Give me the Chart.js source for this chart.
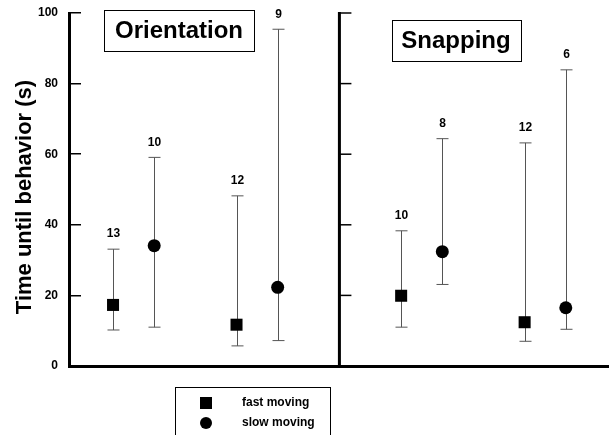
<!DOCTYPE html>
<html lang="en">
<head>
  <meta charset="UTF-8" />
  <title>Time until behavior</title>
  <script src="https://cdn.jsdelivr.net/npm/chart.js"></script>
  <style>
    html, body { margin: 0; padding: 0; background: #fff; }
  </style>
</head>
<body>
  <canvas id="behaviorChart" width="609" height="435"></canvas>

  <script>
    // panels and group positions along the x axis
    const panelTitles = ['Orientation', 'Snapping'];
    const dividerX = 6.5;
    const yTicks = [0, 20, 40, 60, 80, 100];

    // fast moving (squares)
    const fastX    = [1, 4, 8, 11];
    const fastMean = [17.3, 11.7, 19.9, 12.4];
    const fastLow  = [10.2, 5.7, 11.0, 7.0];
    const fastHigh = [33.1, 48.2, 38.3, 63.2];
    const fastN    = [13, 12, 10, 12];

    // slow moving (circles)
    const slowX    = [2, 5, 9, 12];
    const slowMean = [34.1, 22.3, 32.4, 16.5];
    const slowLow  = [11.0, 7.2, 23.1, 10.4];
    const slowHigh = [59.1, 95.4, 64.4, 83.9];
    const slowN    = [10, 9, 8, 6];

    function points(xs, mean, lo, hi, n) {
      return xs.map((x, i) => ({ x: x, y: mean[i], lo: lo[i], hi: hi[i], n: n[i] }));
    }

    const boldFont = (size) => 'bold ' + size + 'px "Liberation Sans", Arial, sans-serif';

    const extras = {
      id: 'extras',
      beforeDatasetsDraw(chart) {
        const ctx = chart.ctx;
        const xs = chart.scales.x, ys = chart.scales.y;
        ctx.save();

        // second panel axis
        const dx = xs.getPixelForValue(dividerX);
        ctx.strokeStyle = '#000';
        ctx.lineWidth = 3;
        ctx.beginPath();
        ctx.moveTo(dx, ys.getPixelForValue(100) - 1);
        ctx.lineTo(dx, ys.bottom);
        ctx.stroke();
        ctx.lineWidth = 1.5;
        yTicks.filter(v => v > 0).forEach(v => {
          const py = ys.getPixelForValue(v);
          ctx.beginPath();
          ctx.moveTo(dx, py);
          ctx.lineTo(dx + 12, py);
          ctx.stroke();
        });

        // range bars and sample sizes
        ctx.strokeStyle = '#555';
        ctx.lineWidth = 1;
        ctx.fillStyle = '#000';
        ctx.font = boldFont(12);
        ctx.textAlign = 'center';
        ctx.textBaseline = 'middle';
        chart.data.datasets.forEach(ds => {
          ds.data.forEach(p => {
            const px = Math.round(xs.getPixelForValue(p.x)) + 0.5;
            const top = ys.getPixelForValue(p.hi);
            const bot = ys.getPixelForValue(p.lo);
            ctx.beginPath();
            ctx.moveTo(px, top);
            ctx.lineTo(px, bot);
            ctx.moveTo(px - 6, top);
            ctx.lineTo(px + 6, top);
            ctx.moveTo(px - 6, bot);
            ctx.lineTo(px + 6, bot);
            ctx.stroke();
            ctx.fillText(String(p.n), px, top - 15);
          });
        });
        ctx.restore();
      },
      afterDraw(chart) {
        const ctx = chart.ctx;
        ctx.save();

        // y axis title
        ctx.fillStyle = '#000';
        ctx.font = boldFont(22);
        ctx.textAlign = 'center';
        ctx.textBaseline = 'middle';
        ctx.translate(25, 197);
        ctx.rotate(-Math.PI / 2);
        ctx.fillText('Time until behavior (s)', 0, 0);
        ctx.setTransform(1, 0, 0, 1, 0, 0);

        // panel title boxes
        const boxes = [
          { cx: 179, cy: 30, w: 150, h: 41 },
          { cx: 456, cy: 40, w: 129, h: 41 }
        ];
        ctx.font = boldFont(24);
        ctx.lineWidth = 1;
        ctx.strokeStyle = '#000';
        boxes.forEach((b, i) => {
          ctx.fillStyle = '#fff';
          ctx.fillRect(b.cx - b.w / 2, b.cy - b.h / 2, b.w, b.h);
          ctx.strokeRect(Math.round(b.cx - b.w / 2) + 0.5, Math.round(b.cy - b.h / 2) + 0.5, b.w, b.h);
          ctx.fillStyle = '#000';
          ctx.fillText(panelTitles[i], b.cx, b.cy + 1);
        });

        // legend box
        const lx = 175, ly = 387;
        ctx.strokeRect(lx + 0.5, ly + 0.5, 155, 60);
        ctx.font = boldFont(12);
        ctx.textAlign = 'left';
        chart.data.datasets.forEach((ds, i) => {
          const cy = ly + 16 + i * 20;
          ctx.fillStyle = '#000';
          if (ds.pointStyle === 'rect') {
            ctx.fillRect(lx + 25, cy - 6, 12, 12);
          } else {
            ctx.beginPath();
            ctx.arc(lx + 31, cy, 6, 0, Math.PI * 2);
            ctx.fill();
          }
          ctx.fillText(ds.label, lx + 67, cy);
        });
        ctx.restore();
      }
    };

    new Chart(document.getElementById('behaviorChart'), {
      type: 'scatter',
      data: {
        datasets: [
          {
            label: 'fast moving',
            data: points(fastX, fastMean, fastLow, fastHigh, fastN),
            pointStyle: 'rect',
            pointRadius: 8.5,
            backgroundColor: '#000',
            borderColor: '#000',
            borderWidth: 0
          },
          {
            label: 'slow moving',
            data: points(slowX, slowMean, slowLow, slowHigh, slowN),
            pointStyle: 'circle',
            pointRadius: 6.5,
            backgroundColor: '#000',
            borderColor: '#000',
            borderWidth: 0
          }
        ]
      },
      options: {
        responsive: false,
        animation: false,
        layout: { autoPadding: false, padding: { left: 0, right: 0, top: 13, bottom: 69 } },
        plugins: {
          legend: { display: false },
          tooltip: { enabled: false }
        },
        scales: {
          x: {
            type: 'linear',
            min: -0.07,
            max: 13.05,
            grid: { display: false },
            ticks: { display: false },
            border: { display: true, color: '#000', width: 3 },
            afterFit: (s) => { s.height = 0; }
          },
          y: {
            min: 0,
            max: 100,
            afterBuildTicks: (s) => { s.ticks = yTicks.map(v => ({ value: v })); },
            grid: { drawOnChartArea: false, tickLength: -12, lineWidth: 1.5, color: '#000' },
            border: { display: true, color: '#000', width: 3 },
            ticks: {
              color: '#000',
              padding: 23,
              font: { family: '"Liberation Sans", Arial, sans-serif', weight: 'bold', size: 12 }
            },
            afterFit: (s) => {
              s.width = 69;
              s.paddingTop = 0;
              s.paddingBottom = 0;
            }
          }
        }
      },
      plugins: [extras]
    });
  </script>
</body>
</html>
